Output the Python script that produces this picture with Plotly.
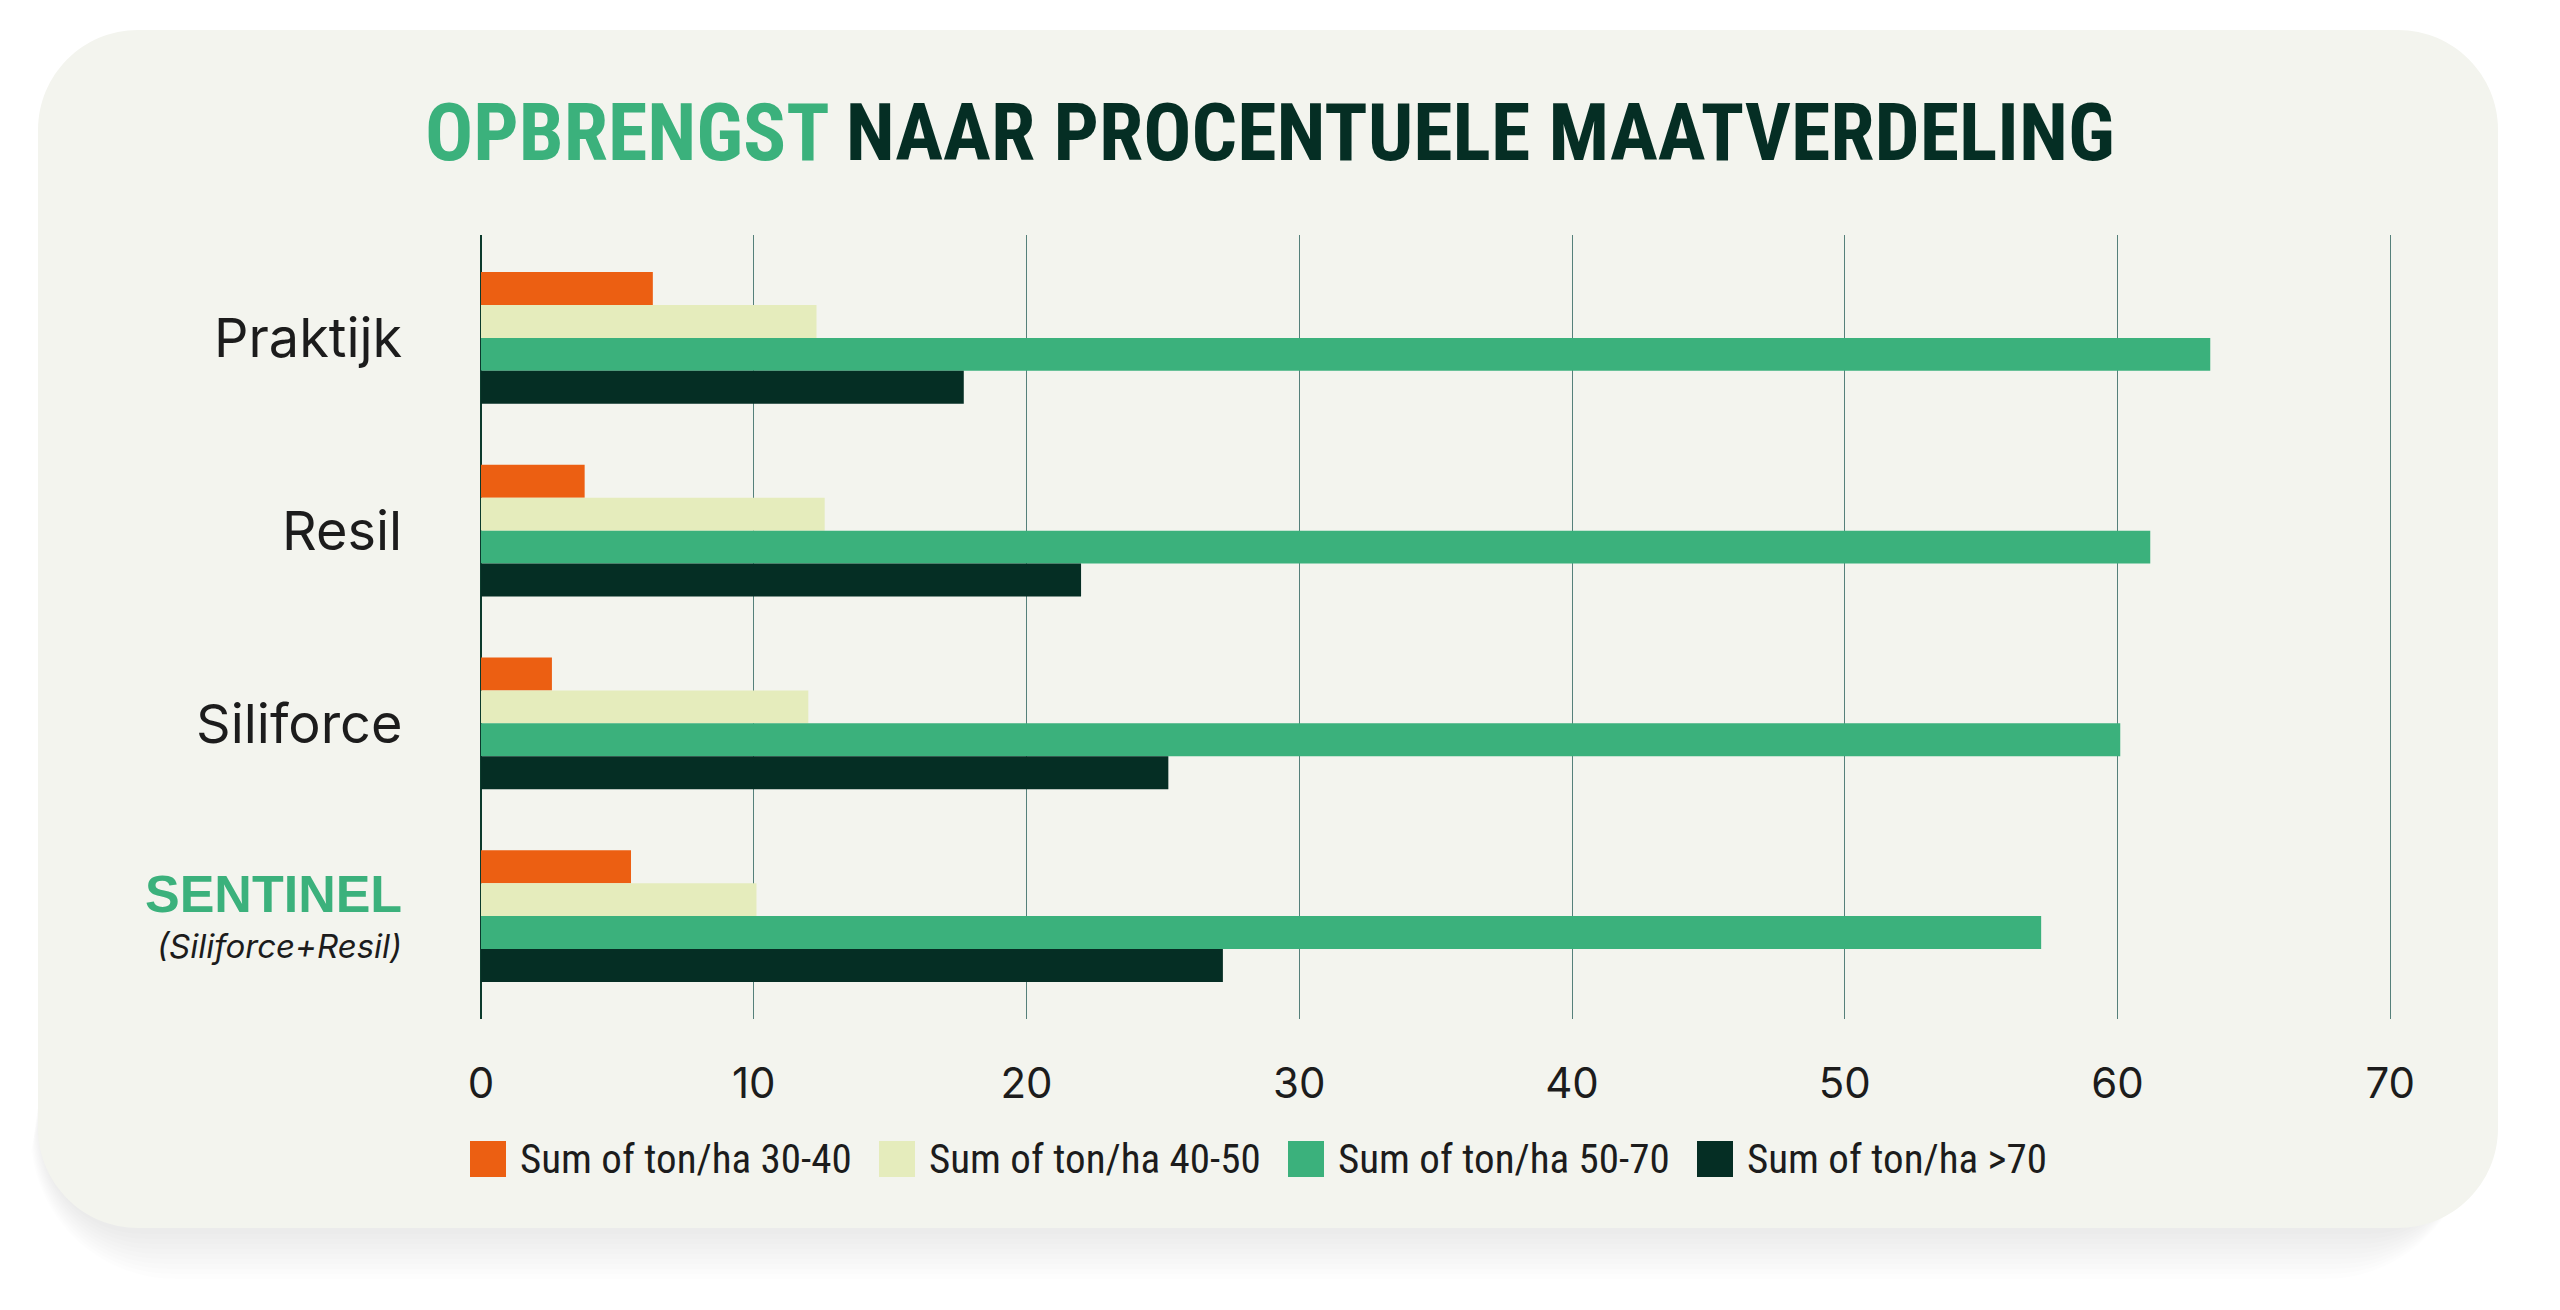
import plotly.graph_objects as go

# ── data ──
CATEGORIES = ["Praktijk", "Resil", "Siliforce", "SENTINEL"]
SERIES = ["Sum of ton/ha 30-40", "Sum of ton/ha 40-50", "Sum of ton/ha 50-70", "Sum of ton/ha >70"]
V_30_40 = [6.3, 3.8, 2.6, 5.5]
V_40_50 = [12.3, 12.6, 12.0, 10.1]
V_50_70 = [63.4, 61.2, 60.1, 57.2]
V_GT_70 = [17.7, 22.0, 25.2, 27.2]
X_TICKS = [0, 10, 20, 30, 40, 50, 60, 70]

COLORS = ["#ec5f12", "#e5ecbc", "#3bb17c", "#052e24"]
CARD = "#f3f4ee"
INK = "#1c1c1c"
GREEN = "#3bb17c"
DARK = "#052e24"

W, H = 2560, 1310
ML, MR, MT, MB = 481, 167, 235, 291
PW, PH = W - ML - MR, H - MT - MB


def px(x):
    return (x - ML) / PW


def py(y):
    return (H - MB - y) / PH


def rrect(x0, y0, x1, y1, r):
    # rounded rectangle in pixel coords -> paper path (cubic corners)
    k = 0.5523 * r
    pts = [
        ("M", [(x0 + r, y0)]),
        ("L", [(x1 - r, y0)]),
        ("C", [(x1 - r + k, y0), (x1, y0 + r - k), (x1, y0 + r)]),
        ("L", [(x1, y1 - r)]),
        ("C", [(x1, y1 - r + k), (x1 - r + k, y1), (x1 - r, y1)]),
        ("L", [(x0 + r, y1)]),
        ("C", [(x0 + r - k, y1), (x0, y1 - r + k), (x0, y1 - r)]),
        ("L", [(x0, y0 + r)]),
        ("C", [(x0, y0 + r - k), (x0 + r - k, y0), (x0 + r, y0)]),
    ]
    s = ""
    for cmd, ps in pts:
        s += cmd + " ".join(f"{px(a):.5f},{py(b):.5f}" for a, b in ps)
    return s + "Z"


fig = go.Figure()
for name, vals, col in zip(SERIES, [V_30_40, V_40_50, V_50_70, V_GT_70], COLORS):
    fig.add_trace(go.Bar(y=CATEGORIES, x=vals, name=name, orientation="h",
                         marker=dict(color=col, line=dict(width=0)), showlegend=False))

shapes = []
# soft shadow under the card (mostly below, a little to the left)
for i in range(10):
    e = 5 * i
    shapes.append(dict(type="path", xref="paper", yref="paper", layer="below",
                       path=rrect(42 - e * 0.25, 980 + e, 2470, 1234 + e, 100 + e),
                       fillcolor="rgba(0,0,0,0.006)", line=dict(width=0)))
shapes.append(dict(type="path", xref="paper", yref="paper", layer="below",
                   path=rrect(38, 30, 2498, 1228, 100), fillcolor=CARD, line=dict(width=0)))

# legend swatches + labels (manual, to get the large square keys)
LEG_X0, LEG_STEP, LEG_Y = 470, 409, 1159
annotations = []
for i, (name, col) in enumerate(zip(SERIES, COLORS)):
    x0 = LEG_X0 + i * LEG_STEP
    shapes.append(dict(type="rect", xref="paper", yref="paper", layer="above",
                       x0=px(x0), x1=px(x0 + 36), y0=py(LEG_Y - 18), y1=py(LEG_Y + 18),
                       fillcolor=col, line=dict(width=0)))
    annotations.append(dict(xref="paper", yref="paper", x=px(x0 + 48), y=py(LEG_Y),
                            xanchor="left", yanchor="middle", showarrow=False, text=name,
                            font=dict(family="Roboto Condensed, Roboto, sans-serif",
                                      size=41, color=INK)))

# category labels
for c in CATEGORIES:
    if c == "SENTINEL":
        annotations.append(dict(xref="paper", yref="y", x=px(404), y=c, yshift=22,
                                xanchor="right", yanchor="middle", showarrow=False,
                                text="<b>SENTINEL</b>",
                                font=dict(family="Liberation Sans, Arial, sans-serif", size=52, color=GREEN)))
        annotations.append(dict(xref="paper", yref="y", x=px(404), y=c, yshift=-30,
                                xanchor="right", yanchor="middle", showarrow=False,
                                text="<i>(Siliforce+Resil)</i>",
                                font=dict(family="Inter, sans-serif", size=33, color=INK)))
    else:
        annotations.append(dict(xref="paper", yref="y", x=px(404), y=c,
                                xanchor="right", yanchor="middle", showarrow=False, text=c,
                                font=dict(family="Inter, sans-serif", size=54, color=INK)))

# title
annotations.append(dict(xref="paper", yref="paper", x=px(1270), y=py(133),
                        xanchor="center", yanchor="middle", showarrow=False,
                        text=f"<b><span style='color:{GREEN}'>OPBRENGST</span> NAAR PROCENTUELE MAATVERDELING</b>",
                        font=dict(family="Roboto Condensed, Roboto, sans-serif", size=80, color=DARK)))

fig.update_layout(
    width=W, height=H,
    margin=dict(l=ML, r=MR, t=MT, b=MB, pad=0),
    paper_bgcolor="white", plot_bgcolor="rgba(0,0,0,0)",
    barmode="group", bargap=0.317, bargroupgap=0,
    shapes=shapes, annotations=annotations,
    xaxis=dict(range=[0, 70.1], tickvals=X_TICKS, showgrid=True, gridcolor="#55807a", gridwidth=1.2,
               zeroline=True, zerolinecolor="#0b3a2c", zerolinewidth=1.5, showline=False,
               ticks="outside", ticklen=28, tickcolor="rgba(0,0,0,0)",
               tickfont=dict(family="Inter, sans-serif", size=42, color=INK), fixedrange=True),
    yaxis=dict(range=[3.534, -0.534], showticklabels=False, showgrid=False, zeroline=False,
               showline=False, fixedrange=True),
    showlegend=False,
)

fig.write_html("out.html", config={"displayModeBar": False},
               post_script="document.body.style.margin='0';document.body.style.overflow='hidden';")
